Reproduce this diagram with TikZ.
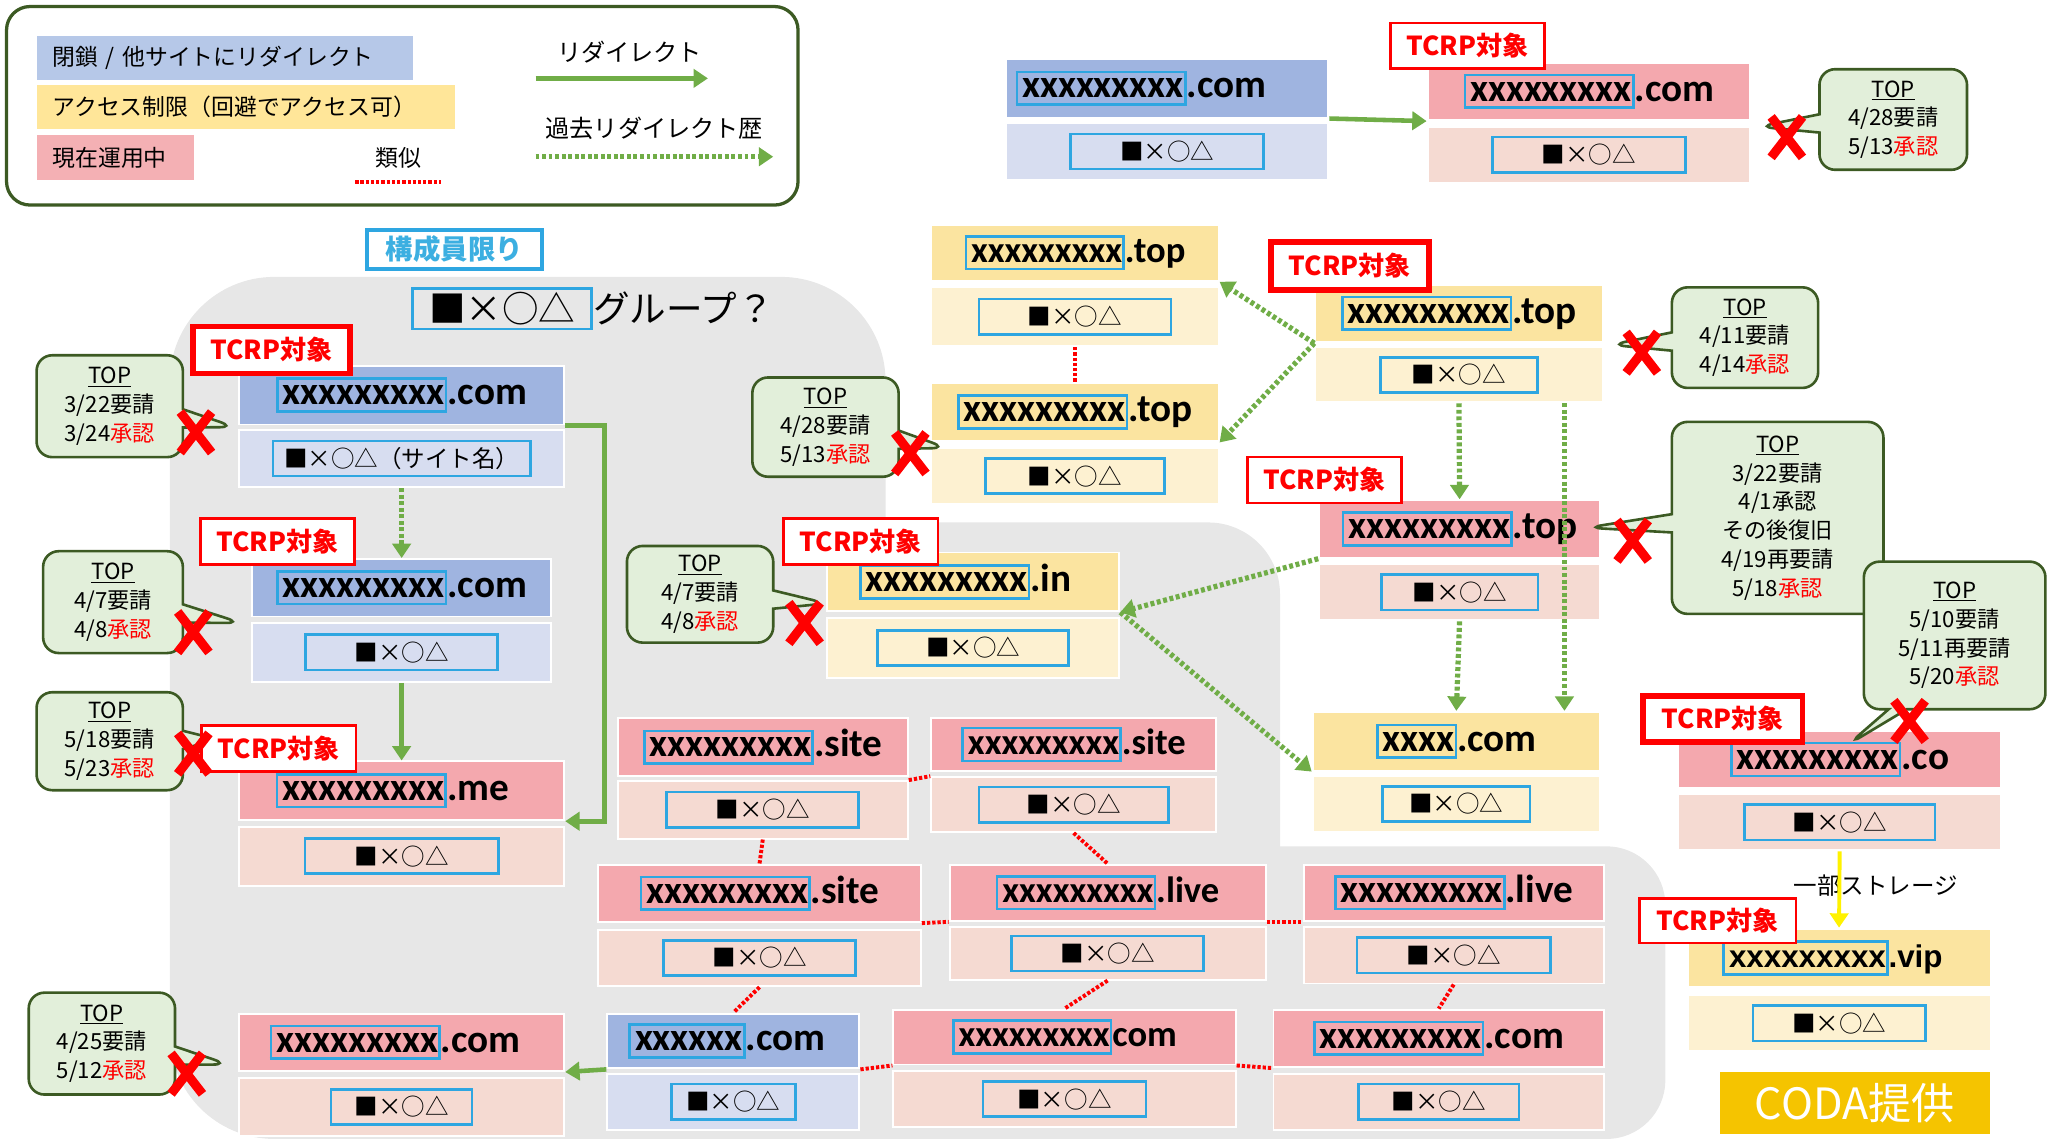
\documentclass[tikz,border=0pt]{standalone}
\usepackage{fontspec}
\setmainfont{Carlito}
\newfontfamily\jp{Noto Sans CJK JP}
\newfontfamily\arl{Liberation Sans}
\usetikzlibrary{arrows.meta, positioning, shapes.misc, shapes.callouts}

\definecolor{bgGray}{RGB}{231,231,231}
\definecolor{hdBlue}{RGB}{159,180,224}
\definecolor{lwBlue}{RGB}{215,221,240}
\definecolor{hdPink}{RGB}{244,168,174}
\definecolor{lwPink}{RGB}{245,218,210}
\definecolor{hdYel}{RGB}{251,228,160}
\definecolor{lwYel}{RGB}{253,241,209}
\definecolor{legBlue}{RGB}{182,200,232}
\definecolor{legYel}{RGB}{255,230,153}
\definecolor{legPink}{RGB}{244,176,180}
\definecolor{boxBlue}{RGB}{46,166,225}
\definecolor{limBlue}{RGB}{60,175,225}
\definecolor{grn}{RGB}{112,173,71}
\definecolor{dkGreen}{RGB}{60,90,35}
\definecolor{noteGreen}{RGB}{226,239,218}
\definecolor{coda}{RGB}{245,196,0}

% blue frame round the masked part of a domain
\newcommand\xb[1]{{\color{boxBlue}\setlength\fboxrule{2pt}\setlength\fboxsep{0pt}%
  \fbox{\color{black}\rule[-4pt]{0pt}{23pt}\hspace{3pt}#1}}}
% empty room after a domain, to pull it to the left
\newcommand\pad[1]{\rule{#1}{0pt}}

\begin{document}
\begin{tikzpicture}[x=1pt, y=-1pt,
    hd/.style={draw=white, line width=1.5pt, inner sep=0pt,
               font=\fontsize{30pt}{30pt}\selectfont\bfseries},
    hds/.style={hd, font=\fontsize{28pt}{28pt}\selectfont\bfseries},
    lw/.style={draw=white, line width=1.5pt, inner sep=0pt},
    sym/.style={draw=boxBlue, line width=2pt, minimum height=27pt, inner sep=0pt,
                font=\jp\fontsize{18pt}{18pt}\selectfont},
    tcrp/.style={draw=red, fill=white, line width=2pt, minimum width=118pt,
                 minimum height=35pt, inner sep=0pt, text=red,
                 font=\jp\bfseries\fontsize{20pt}{20pt}\selectfont},
    tcrpw/.style={tcrp, line width=4.5pt},
    callbox/.style={rectangle callout, draw=dkGreen, fill=noteGreen, line width=2pt,
                    rounded corners=12pt, align=center, inner sep=0pt,
                    callout pointer width=14pt,
                    font=\jp\fontsize{17pt}{22pt}\selectfont},
    xm/.style={cross out, draw=red, line width=7pt, minimum width=17pt,
               minimum height=24pt, inner sep=0pt},
    redir/.style={draw=grn, line width=3.5pt, -{Triangle[length=11pt,width=14pt]}},
    past/.style={redir, line width=4pt, dash pattern=on 3pt off 2pt},
    alike/.style={draw=red, line width=3pt, dash pattern=on 2.5pt off 1.5pt},
    legbar/.style={anchor=west, minimum height=34pt, inner xsep=12pt, inner ysep=0pt,
                   align=left, font=\jp\fontsize{17.5pt}{17.5pt}\selectfont}
  ]
    \useasboundingbox (0,0) rectangle (1568,877);

    % gray group area
    \fill[bgGray, rounded corners=80pt] (130,212) rectangle (678,872);
    \fill[bgGray, rounded corners=55pt] (600,400) rectangle (980,872);
    \fill[bgGray, rounded corners=45pt] (900,648) rectangle (1275,872);
    \fill[bgGray] (400,700) rectangle (1200,872);

    % legend
    \node[draw=dkGreen, line width=2.5pt, rounded corners=18pt,
          minimum width=606pt, minimum height=152pt] (legend) at (308,81) {};
    \node[legbar, fill=legBlue, text width=264pt] (lgBlue) at (28,44.5) {閉鎖 / 他サイトにリダイレクト};
    \node[legbar, fill=legYel, text width=296pt] (lgYel) at (28,82) {アクセス制限（回避でアクセス可）};
    \node[legbar, fill=legPink, text width=96pt] (lgPink) at (28,120.5) {現在運用中};
    \node[font=\jp\fontsize{17.5pt}{17.5pt}\selectfont] (lgAlike) at (305,121) {類似};
    \node[font=\jp\fontsize{18.5pt}{18.5pt}\selectfont] (lgRedir) at (482,40) {リダイレクト};
    \node[font=\jp\fontsize{18.5pt}{18.5pt}\selectfont] (lgPast) at (501,98) {過去リダイレクト歴};
    \coordinate (la1) at (272,139);
    \coordinate (la2) at (338,139);
    \coordinate (lr1) at (410,60);
    \coordinate (lr2) at (542,60);
    \coordinate (lp1) at (410,120);
    \coordinate (lp2) at (592,120);
    \draw[alike] (la1) -- (la2);
    \draw[redir] (lr1) -- (lr2);
    \draw[past] (lp1) -- (lp2);

    % group title
    \node[draw=boxBlue, fill=white, line width=2.5pt, minimum width=134pt,
          minimum height=30pt, inner sep=0pt, text=limBlue,
          font=\jp\bfseries\fontsize{21pt}{21pt}\selectfont] (members) at (348,191) {構成員限り};
    \node[draw=boxBlue, line width=2pt, minimum width=137pt, minimum height=31pt,
          inner sep=0pt, font=\jp\fontsize{28pt}{28pt}\selectfont] (grpSym) at (384.5,236.5) {■×○△};
    \node[right=0pt of grpSym, inner sep=0pt,
          font=\jp\fontsize{28pt}{28pt}\selectfont] (grpName) {グループ？};

    % top row
    \node[hd, fill=hdBlue, minimum width=247pt, minimum height=45pt] (aH) at (893.5,67.5) {\xb{xxxxxxxxx}.com\pad{40pt}};
    \node[lw, fill=lwBlue, minimum width=247pt, minimum height=44pt] (aL) at (893.5,116) {};
    \node[sym, minimum width=148pt] (aS) at (aL) {■×○△};
    \node[hd, fill=hdPink, minimum width=247pt, minimum height=44pt] (bH) at (1216.5,70) {\xb{xxxxxxxxx}.com};
    \node[lw, fill=lwPink, minimum width=247pt, minimum height=43pt] (bL) at (1216.5,118.5) {};
    \node[sym, minimum width=148pt] (bS) at (bL) {■×○△};

    % .top cards
    \node[hds, fill=hdYel, minimum width=220pt, minimum height=43pt] (cH) at (823,193.5) {\xb{xxxxxxxxx}.top};
    \node[lw, fill=lwYel, minimum width=220pt, minimum height=45pt] (cL) at (823,242.5) {};
    \node[sym, minimum width=147pt] (cS) at (cL) {■×○△};
    \node[hd, fill=hdYel, minimum width=220pt, minimum height=45pt] (dH) at (823,315.5) {\xb{xxxxxxxxx}.top};
    \node[lw, fill=lwYel, minimum width=220pt, minimum height=43pt] (dL) at (823,364.5) {};
    \node[sym, minimum width=137pt] (dS) at (dL) {■×○△};
    \node[hd, fill=hdYel, minimum width=220pt, minimum height=44pt] (eH) at (1117,240) {\xb{xxxxxxxxx}.top};
    \node[lw, fill=lwYel, minimum width=220pt, minimum height=42pt] (eL) at (1117,287) {};
    \node[sym, minimum width=120pt] (eS) at (eL) {■×○△};
    \node[hd, fill=hdPink, minimum width=215pt, minimum height=44pt] (fH) at (1117.5,405) {\xb{xxxxxxxxx}.top};
    \node[lw, fill=lwPink, minimum width=215pt, minimum height=43pt] (fL) at (1117.5,453.5) {};
    \node[sym, minimum width=120pt] (fS) at (fL) {■×○△};
    \node[hd, fill=hdYel, minimum width=220pt, minimum height=45pt] (gH) at (1115,567.5) {\xb{xxxx}.com};
    \node[lw, fill=lwYel, minimum width=220pt, minimum height=43pt] (gL) at (1115,615.5) {};
    \node[sym, minimum width=113pt] (gS) at (gL) {■×○△};
    \node[hd, fill=hdYel, minimum width=224pt, minimum height=45pt] (hH) at (745,445.5) {\xb{xxxxxxxxx}.in\pad{12pt}};
    \node[lw, fill=lwYel, minimum width=224pt, minimum height=46pt] (hL) at (745,496) {};
    \node[sym, minimum width=146pt] (hS) at (hL) {■×○△};

    % group, left column
    \node[hd, fill=hdBlue, minimum width=249pt, minimum height=45pt] (iH) at (307.5,302.5) {\xb{xxxxxxxxx}.com};
    \node[lw, fill=lwBlue, minimum width=249pt, minimum height=44pt] (iL) at (307.5,351) {};
    \node[sym, minimum width=197pt] (iS) at (iL) {■×○△（サイト名）};
    \node[hd, fill=hdBlue, minimum width=229pt, minimum height=44pt] (jH) at (307.5,450) {\xb{xxxxxxxxx}.com};
    \node[lw, fill=lwBlue, minimum width=229pt, minimum height=45pt] (jL) at (307.5,499.5) {};
    \node[sym, minimum width=147pt] (jS) at (jL) {■×○△};
    \node[hd, fill=hdPink, minimum width=249pt, minimum height=45pt] (kH) at (307.5,605.5) {\xb{xxxxxxxxx}.me\pad{14pt}};
    \node[lw, fill=lwPink, minimum width=249pt, minimum height=45pt] (kL) at (307.5,655.5) {};
    \node[sym, minimum width=148pt] (kS) at (kL) {■×○△};
    \node[hd, fill=hdPink, minimum width=249pt, minimum height=44pt] (lH) at (307.5,798) {\xb{xxxxxxxxx}.com\pad{10pt}};
    \node[lw, fill=lwPink, minimum width=249pt, minimum height=45pt] (lL) at (307.5,847.5) {};
    \node[sym, minimum width=108pt] (lS) at (lL) {■×○△};

    % group, lower block
    \node[hd, fill=hdBlue, minimum width=193pt, minimum height=42pt] (mH) at (561.5,797) {\xb{xxxxxx}.com\pad{10pt}};
    \node[lw, fill=lwBlue, minimum width=193pt, minimum height=43pt] (mL) at (561.5,843.5) {};
    \node[sym, minimum width=95pt] (mS) at (mL) {■×○△};
    \node[hd, fill=hdPink, minimum width=222pt, minimum height=44pt] (nH) at (584,572) {\xb{xxxxxxxxx}.site};
    \node[lw, fill=lwPink, minimum width=222pt, minimum height=44pt] (nL) at (584,620) {};
    \node[sym, minimum width=147pt] (nS) at (nL) {■×○△};
    \node[hds, fill=hdPink, minimum width=218pt, minimum height=40pt] (oH) at (822,570) {\xb{xxxxxxxxx}.site};
    \node[lw, fill=lwPink, minimum width=218pt, minimum height=42pt] (oL) at (822,616) {};
    \node[sym, minimum width=145pt] (oS) at (oL) {■×○△};
    \node[hd, fill=hdPink, minimum width=247pt, minimum height=44pt] (pH) at (581.5,684) {\xb{xxxxxxxxx}.site};
    \node[lw, fill=lwPink, minimum width=247pt, minimum height=43pt] (pL) at (581.5,733.5) {};
    \node[sym, minimum width=147pt] (pS) at (pL) {■×○△};
    \node[hds, fill=hdPink, minimum width=242pt, minimum height=43pt] (qH) at (848,683.5) {\xb{xxxxxxxxx}.live};
    \node[lw, fill=lwPink, minimum width=242pt, minimum height=40pt] (qL) at (848,730) {};
    \node[sym, minimum width=147pt] (qS) at (qL) {■×○△};
    \node[hd, fill=hdPink, minimum width=230pt, minimum height=43pt] (rH) at (1113,683.5) {\xb{xxxxxxxxx}.live};
    \node[lw, fill=lwPink, minimum width=230pt, minimum height=43pt] (rL) at (1113,731.5) {};
    \node[sym, minimum width=148pt] (rS) at (rL) {■×○△};
    \node[hds, fill=hdPink, minimum width=262pt, minimum height=42pt] (sH) at (815,794) {\xb{xxxxxxxxx}com};
    \node[lw, fill=lwPink, minimum width=262pt, minimum height=43pt] (sL) at (815,841.5) {};
    \node[sym, minimum width=125pt] (sS) at (sL) {■×○△};
    \node[hd, fill=hdPink, minimum width=253pt, minimum height=44pt] (tH) at (1101.5,795) {\xb{xxxxxxxxx}.com};
    \node[lw, fill=lwPink, minimum width=253pt, minimum height=43pt] (tL) at (1101.5,843.5) {};
    \node[sym, minimum width=123pt] (tS) at (tL) {■×○△};

    % right column
    \node[hd, fill=hdPink, minimum width=247pt, minimum height=43pt] (uH) at (1408.5,581.5) {\xb{xxxxxxxxx}.co};
    \node[lw, fill=lwPink, minimum width=247pt, minimum height=43pt] (uL) at (1408.5,629.5) {};
    \node[sym, minimum width=146pt] (uS) at (uL) {■×○△};
    \node[hd, fill=hdYel, minimum width=232pt, minimum height=45pt,
          font=\arl\bfseries\fontsize{24pt}{24pt}\selectfont] (vH) at (1408,733.5) {\xb{xxxxxxxxx}.vip\pad{10pt}};
    \node[lw, fill=lwYel, minimum width=232pt, minimum height=43pt] (vL) at (1408,783.5) {};
    \node[sym, minimum width=132pt] (vS) at (vL) {■×○△};
    \node[font=\jp\fontsize{18pt}{18pt}\selectfont] (storage) at (1436,678) {一部ストレージ};
    \node[fill=coda, minimum width=207pt, minimum height=47pt, inner sep=0pt, text=white,
          font=\jp\fontsize{33pt}{33pt}\selectfont] (coda) at (1420,844.5) {CODA提供};

    % redirects
    \draw[redir] (aH.south east) -- (bH.south west);
    \draw[past] (eH.south west) -- (cH.south east);
    \draw[past] (eH.south west) -- (dH.south east);
    \draw[past] (eL.south) -- (fH.north);
    \draw[past] ([xshift=-30pt]eL.south east) -- ([xshift=-28pt]gH.north east);
    \draw[past] (fL.south) -- (gH.north);
    \draw[past] (fH.south west) -- (hH.south east);
    \draw[past] (hH.south east) -- (gH.south west);
    \draw[past] (iL.south) -- (jH.north);
    \draw[redir] (jL.south) -- (kH.north);
    \draw[redir] (iH.south east) -- ++(30pt,0pt) |- (kH.south east);
    \draw[redir] (mH.south west) -- (lH.south east);
    \draw[yellow, line width=3pt, -{Triangle[length=11pt,width=14pt]}] (uL.south) -- (vH.north);

    % similar sites
    \draw[alike] (cL.south) -- (dH.north);
    \draw[alike] (nL.north east) -- (oL.north west);
    \draw[alike] (nL.south) -- (pH.north);
    \draw[alike] (oL.south) -- (qH.north);
    \draw[alike] (pH.south east) -- (qH.south west);
    \draw[alike] (qH.south east) -- (rH.south west);
    \draw[alike] (pL.south) -- (mH.north);
    \draw[alike] (qL.south) -- (sH.north);
    \draw[alike] (rL.south) -- (tH.north);
    \draw[alike] (mH.south east) -- (sH.south west);
    \draw[alike] (sH.south east) -- (tH.south west);

    % TOP requests
    \coordinate (ptB) at (1346,97);
    \coordinate (ptD) at (725,343);
    \coordinate (ptE) at (1233,264);
    \coordinate (ptF) at (1215,404);
    \coordinate (ptH) at (633,462);
    \coordinate (ptI) at (180,327);
    \coordinate (ptJ) at (185,477);
    \coordinate (ptK) at (166,566);
    \coordinate (ptL) at (175,815);
    \coordinate (ptU) at (1415,570);
    \node[callbox, minimum width=113pt, minimum height=77pt, callout absolute pointer=(ptB)]
      (tpB) at (1449.5,91.5) {\underline{TOP}\\4/28要請\\5/13\textcolor{red}{承認}};
    \node[callbox, minimum width=112pt, minimum height=76pt, callout absolute pointer=(ptD)]
      (tpD) at (632,327) {\underline{TOP}\\4/28要請\\5/13\textcolor{red}{承認}};
    \node[callbox, minimum width=112pt, minimum height=77pt, callout absolute pointer=(ptE)]
      (tpE) at (1336,258.5) {\underline{TOP}\\4/11要請\\4/14\textcolor{red}{承認}};
    \node[callbox, minimum width=162pt, minimum height=147pt, callout absolute pointer=(ptF)]
      (tpF) at (1361,396.5) {\underline{TOP}\\3/22要請\\4/1承認\\その後復旧\\4/19再要請\\5/18\textcolor{red}{承認}};
    \node[callbox, minimum width=112pt, minimum height=74pt, callout absolute pointer=(ptH)]
      (tpH) at (536,455) {\underline{TOP}\\4/7要請\\4/8\textcolor{red}{承認}};
    \node[callbox, minimum width=112pt, minimum height=78pt, callout absolute pointer=(ptI)]
      (tpI) at (84,311) {\underline{TOP}\\3/22要請\\3/24\textcolor{red}{承認}};
    \node[callbox, minimum width=107pt, minimum height=78pt, callout absolute pointer=(ptJ)]
      (tpJ) at (86.5,461) {\underline{TOP}\\4/7要請\\4/8\textcolor{red}{承認}};
    \node[callbox, minimum width=112pt, minimum height=75pt, callout absolute pointer=(ptK)]
      (tpK) at (84,567.5) {\underline{TOP}\\5/18要請\\5/23\textcolor{red}{承認}};
    \node[callbox, minimum width=112pt, minimum height=78pt, callout absolute pointer=(ptL)]
      (tpL) at (78,799) {\underline{TOP}\\4/25要請\\5/12\textcolor{red}{承認}};
    \node[callbox, minimum width=139pt, minimum height=113pt, callout absolute pointer=(ptU)]
      (tpU) at (1496.5,486.5) {\underline{TOP}\\5/10要請\\5/11再要請\\5/20\textcolor{red}{承認}};

    % TCRP labels
    \node[tcrp] (tcB) at (1123.5,35) {TCRP対象};
    \node[tcrpw, minimum width=121pt, minimum height=37pt] (tcE) at (1033.5,203.5) {TCRP対象};
    \node[tcrp] (tcF) at (1014,367.5) {TCRP対象};
    \node[tcrp] (tcH) at (659,414.5) {TCRP対象};
    \node[tcrpw, minimum width=120pt, minimum height=36pt] (tcI) at (208,268) {TCRP対象};
    \node[tcrp] (tcJ) at (212.5,414.5) {TCRP対象};
    \node[tcrp] (tcK) at (213.5,573) {TCRP対象};
    \node[tcrpw, minimum width=122pt] (tcU) at (1319,550.5) {TCRP対象};
    \node[tcrp, minimum width=120pt, minimum height=34pt] (tcV) at (1315,705) {TCRP対象};

    % refused marks
    \node[xm] (xB) at (1368,105) {};
    \node[xm] (xD) at (697,347) {};
    \node[xm] (xE) at (1257,270) {};
    \node[xm] (xF) at (1250,414) {};
    \node[xm] (xH) at (616,477) {};
    \node[xm] (xI) at (150,331) {};
    \node[xm] (xJ) at (148,484) {};
    \node[xm] (xK) at (148,577) {};
    \node[xm] (xL) at (143,822) {};
    \node[xm] (xU) at (1462,552) {};
\end{tikzpicture}
\end{document}
